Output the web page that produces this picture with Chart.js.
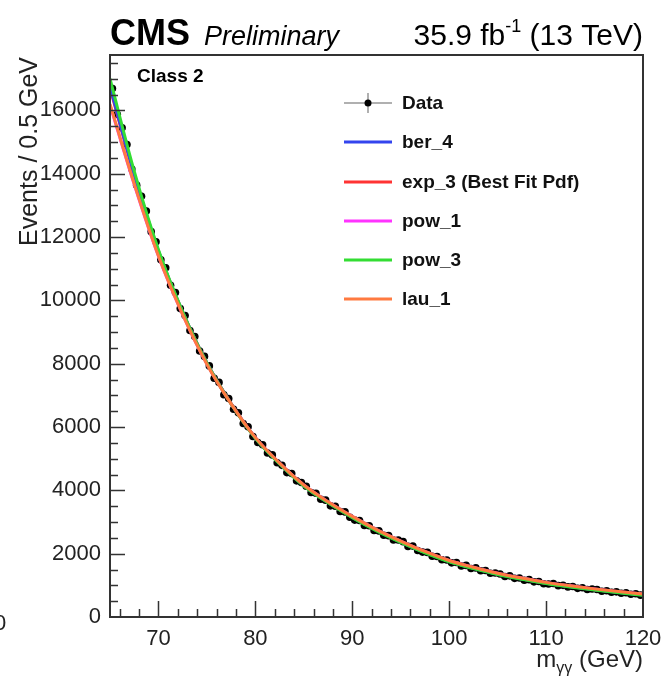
<!DOCTYPE html>
<html>
<head>
<meta charset="utf-8">
<script src="https://cdn.jsdelivr.net/npm/chart.js@4.4.0/dist/chart.umd.min.js"></script>
<style>
  body { margin: 0; background: #ffffff; }
  canvas { display: block; }
</style>
</head>
<body>
<canvas id="myChart" width="665" height="680"></canvas>
<script>
// centros de bin (0.5 GeV) y eventos por bin
const binCenters = [
  65.25, 65.75, 66.25, 66.75, 67.25, 67.75, 68.25, 68.75, 69.25, 69.75,
  70.25, 70.75, 71.25, 71.75, 72.25, 72.75, 73.25, 73.75, 74.25, 74.75,
  75.25, 75.75, 76.25, 76.75, 77.25, 77.75, 78.25, 78.75, 79.25, 79.75,
  80.25, 80.75, 81.25, 81.75, 82.25, 82.75, 83.25, 83.75, 84.25, 84.75,
  85.25, 85.75, 86.25, 86.75, 87.25, 87.75, 88.25, 88.75, 89.25, 89.75,
  90.25, 90.75, 91.25, 91.75, 92.25, 92.75, 93.25, 93.75, 94.25, 94.75,
  95.25, 95.75, 96.25, 96.75, 97.25, 97.75, 98.25, 98.75, 99.25, 99.75,
  100.25, 100.75, 101.25, 101.75, 102.25, 102.75, 103.25, 103.75, 104.25, 104.75,
  105.25, 105.75, 106.25, 106.75, 107.25, 107.75, 108.25, 108.75, 109.25, 109.75,
  110.25, 110.75, 111.25, 111.75, 112.25, 112.75, 113.25, 113.75, 114.25, 114.75,
  115.25, 115.75, 116.25, 116.75, 117.25, 117.75, 118.25, 118.75, 119.25, 119.75
];
const eventCounts = [
  16690, 15880, 15450, 14920, 14150, 13640, 13290, 12820, 12170, 11850,
  11280, 11030, 10480, 10250, 9740, 9520, 9050, 8860, 8400, 8230,
  7930, 7540, 7410, 7020, 6900, 6560, 6450, 6110, 6010, 5700,
  5510, 5440, 5180, 5120, 4870, 4790, 4560, 4530, 4300, 4250,
  4130, 3930, 3910, 3720, 3690, 3510, 3500, 3330, 3320, 3150,
  3060, 3050, 2890, 2880, 2730, 2720, 2580, 2570, 2430, 2430,
  2380, 2230, 2240, 2100, 2050, 2040, 1920, 1910, 1810, 1800,
  1710, 1720, 1610, 1630, 1530, 1550, 1460, 1470, 1380, 1390,
  1360, 1280, 1300, 1220, 1230, 1160, 1180, 1110, 1120, 1050,
  1040, 1060, 990, 1000, 950, 965, 905, 925, 870, 885,
  870, 815, 830, 780, 795, 750, 765, 720, 735, 690
];

// curvas de ajuste, leidas cada 2.5 GeV
const fitMass = [65, 67.5, 70, 72.5, 75, 77.5, 80, 82.5, 85, 87.5, 90, 92.5, 95, 97.5, 100, 102.5, 105, 107.5, 110, 112.5, 115, 117.5, 120];
const ber4 = [16750, 13980, 11560, 9630, 8020, 6735, 5654, 4842, 4146, 3613, 3149, 2731, 2368, 2038, 1754, 1540, 1352, 1199, 1063, 955, 858, 772, 694];
const exp3 = [16700, 13960, 11550, 9630, 8025, 6740, 5660, 4848, 4150, 3616, 3150, 2732, 2370, 2040, 1757, 1543, 1355, 1203, 1068, 960, 864, 778, 701];
const pow1 = [16170, 13660, 11395, 9550, 7988, 6732, 5666, 4861, 4170, 3640, 3177, 2761, 2399, 2069, 1785, 1571, 1383, 1229, 1093, 984, 887, 800, 723];
const pow3 = [17000, 14080, 11600, 9640, 8020, 6728, 5645, 4835, 4138, 3605, 3140, 2722, 2358, 2028, 1744, 1530, 1342, 1190, 1054, 946, 850, 764, 686];
const lau1 = [16200, 13680, 11400, 9550, 7985, 6730, 5665, 4860, 4170, 3640, 3178, 2762, 2400, 2070, 1786, 1572, 1384, 1230, 1094, 985, 888, 802, 725];

const fitNames = ["ber_4", "exp_3 (Best Fit Pdf)", "pow_1", "pow_3", "lau_1"];
const fitColors = ["#3344ee", "#ff3333", "#ff33ff", "#33dd33", "#ff7a40"];
// orden de dibujo: numero mayor queda abajo
const fitOrder = [3, 4, 5, 2, 1];

const xTickValues = [70, 80, 90, 100, 110, 120];
const yTickValues = [0, 2000, 4000, 6000, 8000, 10000, 12000, 14000, 16000];

const FONT = "'Liberation Sans', Arial, Helvetica, sans-serif";

function puntos(xs, ys) {
    return xs.map((x, i) => ({ x: x, y: ys[i] }));
}

function dibujarBarrasError(chart) {
    const ctx = chart.ctx;
    const sx = chart.scales.x;
    const sy = chart.scales.y;
    ctx.save();
    ctx.strokeStyle = "#000000";
    ctx.lineWidth = 1.5;
    binCenters.forEach((m, i) => {
        const n = eventCounts[i];
        const err = Math.sqrt(n);
        const px = sx.getPixelForValue(m);
        const py = sy.getPixelForValue(n);
        ctx.beginPath();
        ctx.moveTo(px, sy.getPixelForValue(n + err));
        ctx.lineTo(px, sy.getPixelForValue(n - err));
        ctx.moveTo(sx.getPixelForValue(m - 0.25), py);
        ctx.lineTo(sx.getPixelForValue(m + 0.25), py);
        ctx.stroke();
    });
    ctx.restore();
}

function dibujarMarco(chart) {
    const ctx = chart.ctx;
    const area = chart.chartArea;
    const sx = chart.scales.x;
    const sy = chart.scales.y;
    ctx.save();
    ctx.strokeStyle = "#333333";
    ctx.lineWidth = 2;
    ctx.strokeRect(area.left, area.top, area.right - area.left, area.bottom - area.top);

    // ticks del eje x (hacia dentro)
    ctx.lineWidth = 1.5;
    ctx.beginPath();
    for (let m = 66; m < 120; m += 2) {
        const px = Math.round(sx.getPixelForValue(m)) + 0.5;
        const largo = m % 10 === 0 ? 16 : 8;
        ctx.moveTo(px, area.bottom);
        ctx.lineTo(px, area.bottom - largo);
    }
    // ticks del eje y
    for (let v = 500; v < sy.max; v += 500) {
        const py = Math.round(sy.getPixelForValue(v)) + 0.5;
        const largo = v % 2000 === 0 ? 15 : 8;
        ctx.moveTo(area.left, py);
        ctx.lineTo(area.left + largo, py);
    }
    ctx.stroke();
    ctx.restore();
}

function dibujarTextos(chart) {
    const ctx = chart.ctx;
    ctx.save();
    ctx.fillStyle = "#000000";
    ctx.textBaseline = "alphabetic";

    // titulo CMS Preliminary
    ctx.textAlign = "left";
    ctx.font = "bold 36px " + FONT;
    ctx.fillText("CMS", 110, 45);
    ctx.font = "italic 27px " + FONT;
    ctx.fillText("Preliminary", 204, 45);

    // luminosidad, alineada a la derecha
    const parte1 = "35.9 fb";
    const sup = "-1";
    const parte2 = " (13 TeV)";
    ctx.font = "30px " + FONT;
    const w1 = ctx.measureText(parte1).width;
    const w3 = ctx.measureText(parte2).width;
    ctx.font = "18px " + FONT;
    const w2 = ctx.measureText(sup).width;
    let x0 = 643 - (w1 + w2 + w3);
    ctx.font = "30px " + FONT;
    ctx.fillText(parte1, x0, 45);
    ctx.font = "18px " + FONT;
    ctx.fillText(sup, x0 + w1, 32);
    ctx.font = "30px " + FONT;
    ctx.fillText(parte2, x0 + w1 + w2, 45);

    // etiqueta de categoria
    ctx.font = "bold 19px " + FONT;
    ctx.fillText("Class 2", 137, 82);

    // titulo eje y
    ctx.save();
    ctx.translate(37, 57);
    ctx.rotate(-Math.PI / 2);
    ctx.textAlign = "right";
    ctx.font = "25px " + FONT;
    ctx.fillStyle = "#222222";
    ctx.fillText("Events / 0.5 GeV", 0, 0);
    ctx.restore();

    // titulo eje x: m_yy (GeV)
    ctx.font = "24px " + FONT;
    const tx1 = "m";
    const tx3 = " (GeV)";
    const a1 = ctx.measureText(tx1).width;
    const a3 = ctx.measureText(tx3).width;
    ctx.font = "16px " + FONT;
    const a2 = ctx.measureText("\u03b3\u03b3").width;
    let xx = 643 - (a1 + a2 + a3);
    ctx.fillStyle = "#222222";
    ctx.font = "24px " + FONT;
    ctx.fillText(tx1, xx, 667);
    ctx.font = "16px " + FONT;
    ctx.fillText("\u03b3\u03b3", xx + a1, 673);
    ctx.font = "24px " + FONT;
    ctx.fillText(tx3, xx + a1 + a2, 667);

    // resto de una etiqueta cortada en el borde
    ctx.font = "22px " + FONT;
    ctx.fillStyle = "#222222";
    ctx.fillText("0", -6, 630);
    ctx.restore();
}

function dibujarLeyenda(chart) {
    const ctx = chart.ctx;
    const filas = [103, 142, 182, 221, 260, 299];
    ctx.save();
    ctx.font = "bold 19px " + FONT;
    ctx.textAlign = "left";
    ctx.textBaseline = "middle";

    // fila de datos: linea gris, error vertical y marcador
    ctx.strokeStyle = "#b0b0b0";
    ctx.lineWidth = 2;
    ctx.beginPath();
    ctx.moveTo(344, filas[0]);
    ctx.lineTo(392, filas[0]);
    ctx.moveTo(368, filas[0] - 10);
    ctx.lineTo(368, filas[0] + 10);
    ctx.stroke();
    ctx.fillStyle = "#000000";
    ctx.beginPath();
    ctx.arc(368, filas[0], 3.5, 0, Math.PI * 2);
    ctx.fill();
    ctx.fillStyle = "#111111";
    ctx.fillText("Data", 402, filas[0] + 1);

    fitNames.forEach((nombre, i) => {
        const y = filas[i + 1];
        ctx.strokeStyle = fitColors[i];
        ctx.lineWidth = 3;
        ctx.beginPath();
        ctx.moveTo(344, y);
        ctx.lineTo(392, y);
        ctx.stroke();
        ctx.fillStyle = "#111111";
        ctx.fillText(nombre, 402, y + 1);
    });
    ctx.restore();
}

const pluginDecoracion = {
    id: "decoracion",
    beforeDatasetsDraw(chart) {
        dibujarBarrasError(chart);
    },
    afterDraw(chart) {
        dibujarMarco(chart);
        dibujarTextos(chart);
        dibujarLeyenda(chart);
    }
};

function datasetsDeAjuste() {
    const curvas = [ber4, exp3, pow1, pow3, lau1];
    return curvas.map((curva, i) => ({
        label: fitNames[i],
        data: puntos(fitMass, curva),
        showLine: true,
        borderColor: fitColors[i],
        borderWidth: 3,
        pointRadius: 0,
        cubicInterpolationMode: "monotone",
        order: fitOrder[i]
    }));
}

// quita el relleno que Chart.js agrega para las etiquetas de los extremos
function sinRellenoEtiquetas(scale) {
    scale.paddingLeft = 0;
    scale.paddingRight = 0;
    scale.paddingTop = 0;
    scale.paddingBottom = 0;
}

function cargarGrafico() {
    const datosEventos = {
        label: "Data",
        data: puntos(binCenters, eventCounts),
        showLine: false,
        pointRadius: 3.8,
        pointBackgroundColor: "#000000",
        pointBorderWidth: 0,
        order: 10
    };

    const config = {
        type: "scatter",
        data: { datasets: [datosEventos].concat(datasetsDeAjuste()) },
        options: {
            responsive: false,
            animation: false,
            devicePixelRatio: 1,
            layout: { padding: { top: 55, right: 22, left: 0, bottom: 0 } },
            plugins: {
                legend: { display: false },
                title: { display: false },
                tooltip: { enabled: false }
            },
            scales: {
                x: {
                    type: "linear",
                    min: 65,
                    max: 120,
                    grid: { display: false, drawTicks: false },
                    border: { display: false },
                    afterBuildTicks(scale) {
                        scale.ticks = xTickValues.map((v) => ({ value: v }));
                    },
                    afterFit(scale) {
                        scale.height = 63;
                        sinRellenoEtiquetas(scale);
                    },
                    ticks: {
                        padding: 9,
                        color: "#222222",
                        font: { family: FONT, size: 22 },
                        maxRotation: 0,
                        callback: (v) => String(v)
                    }
                },
                y: {
                    type: "linear",
                    min: 0,
                    max: 17750,
                    grid: { display: false, drawTicks: false },
                    border: { display: false },
                    afterBuildTicks(scale) {
                        scale.ticks = yTickValues.map((v) => ({ value: v }));
                    },
                    afterFit(scale) {
                        scale.width = 110;
                        sinRellenoEtiquetas(scale);
                    },
                    ticks: {
                        padding: 9,
                        color: "#222222",
                        font: { family: FONT, size: 22 },
                        callback: (v) => String(v)
                    }
                }
            }
        },
        plugins: [pluginDecoracion]
    };

    const canvas = document.getElementById("myChart");
    new Chart(canvas, config);
}

cargarGrafico();
</script>
</body>
</html>
